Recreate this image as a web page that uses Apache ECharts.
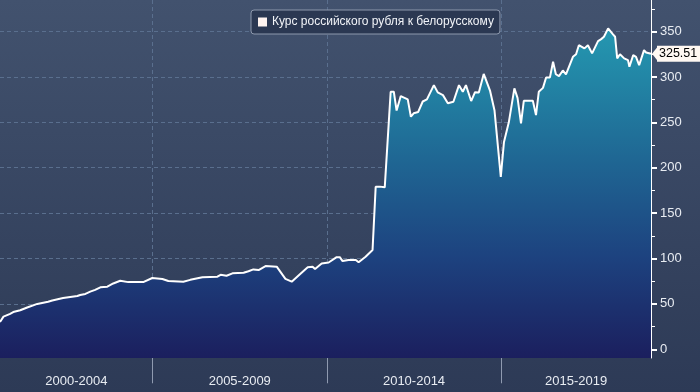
<!DOCTYPE html>
<html><head><meta charset="utf-8">
<script src="https://cdn.jsdelivr.net/npm/echarts@6/dist/echarts.min.js"></script>
<style>
html,body{margin:0;padding:0;}
#c{width:700px;height:392px;background:linear-gradient(#42526e,#2d3a56);}
</style>
</head><body><div id="c"></div>
<script>
const seriesName = 'Курс российского рубля к белорусскому';
// decimal years
const dates = [
2000.62,2000.72,2000.91,2001.00,2001.20,2001.40,2001.69,2002.00,2002.12,2002.43,
2002.84,2002.92,2003.07,2003.21,2003.35,2003.50,2003.70,2003.87,2004.07,2004.30,
2004.73,2004.99,2005.28,2005.45,2005.88,2006.08,2006.43,2006.86,2006.95,2007.12,
2007.29,2007.61,2007.75,2007.89,2008.04,2008.24,2008.56,2008.81,2008.99,2009.25,
2009.45,2009.59,2009.66,2009.85,2010.05,2010.28,2010.37,2010.45,2010.62,2010.83,
2010.91,2011.11,2011.31,2011.40,2011.52,2011.57,2011.66,2011.83,2011.92,2012.00,
2012.12,2012.32,2012.41,2012.49,2012.62,2012.75,2012.87,2013.07,2013.18,2013.33,
2013.47,2013.63,2013.79,2013.90,2013.99,2014.14,2014.25,2014.36,2014.50,2014.68,
2014.81,2014.99,2015.08,2015.22,2015.38,2015.47,2015.57,2015.65,2015.91,2016.00,
2016.08,2016.20,2016.29,2016.40,2016.49,2016.57,2016.66,2016.77,2016.86,2017.06,
2017.15,2017.23,2017.39,2017.49,2017.61,2017.78,2017.87,2017.95,2018.07,2018.21,
2018.27,2018.33,2018.41,2018.53,2018.64,2018.68,2018.79,2018.87,2018.96,2019.10,
2019.16,2019.30
];
const values = [
30,36,39,41,43,46,50,52.4,53.8,56.5,
58.7,59.8,61,63.5,65.5,68.3,69,72.5,75.5,74,
74,78.5,77.5,75.3,74.5,76.5,79.3,80,82,81,
83.7,84.4,86,88,87.3,91.7,91,77.5,74.5,83.5,
90.3,91,88.4,94.5,95.6,101.5,101.5,97.2,98.3,98.3,
95.8,102,109.4,179,179.2,180,178.4,283.7,283.7,263,
279,275.3,256.2,260,261.5,273,275.3,291,283,280,
271,272.7,291,283.7,291,273.5,283.2,283,303.4,285,
263,190,228,250,287.5,277,249,273.8,273.8,258,
283.7,288,299.5,299.5,316.7,303,301,307.2,302.9,322.2,
325,335,331.5,335,326,339.5,341.7,344.3,353.5,347,
344.3,320.5,325,320.5,318.6,311.2,324.1,322.2,313.1,329.6,
327,325.51
];
const yTicks = [0,50,100,150,200,250,300,350];
const yMinorTicks = [25,75,125,175,225,275,325,375];
const yearTicks = [2001,2002,2003,2004,2005,2006,2007,2008,2009,2010,2011,2012,2013,2014,2015,2016,2017,2018,2019];
const periodStarts = [2000,2005,2010,2015];
const periodLabels = ['2000-2004','2005-2009','2010-2014','2015-2019'];
const periodBreaks = [2005,2010,2015];

const xMin = dates[0], xMax = dates[dates.length-1];
const labelPos = periodStarts.map(s => (Math.max(s, xMin) + Math.min(s + 5, xMax)) / 2);
const data = dates.map((d, i) => [d, values[i]]);
const last = data[data.length-1];

const chart = echarts.init(document.getElementById('c'), null, {renderer:'canvas'});
const font = 'Liberation Sans';
chart.setOption({
  animation: false,
  backgroundColor: 'transparent',
  grid: {left: 0, right: 49, top: 0, bottom: 34, outerBoundsMode: 'none', containLabel: false},
  legend: {
    left: 251, top: 10,
    padding: [6, 6, 6, 7],
    itemWidth: 9, itemHeight: 9,
    icon: 'rect',
    backgroundColor: '#2b3852',
    borderColor: '#8d98ac', borderWidth: 1, borderRadius: 3,
    textStyle: {color: '#f2f4f8', fontSize: 12, fontFamily: font},
    data: [{name: seriesName, itemStyle: {color: '#fff4f0'}}]
  },
  xAxis: [{
    type: 'value', min: xMin, max: xMax, position: 'bottom', offset: 0,
    axisLine: {show: true, lineStyle: {color: '#ffffff', width: 1}},
    axisTick: {show: true, customValues: yearTicks, length: 4, lineStyle: {color: '#ffffff'}},
    axisLabel: {
      show: true, customValues: labelPos, margin: 17,
      color: '#e8ecf2', fontSize: 13, fontFamily: font,
      formatter: v => {
        let best = 0;
        labelPos.forEach((p, i) => { if (Math.abs(p - v) < Math.abs(labelPos[best] - v)) best = i; });
        return periodLabels[best];
      }
    },
    splitLine: {show: false}
  }, {
    type: 'value', min: xMin, max: xMax, position: 'bottom', offset: 0,
    axisLine: {show: false},
    axisTick: {show: true, customValues: periodBreaks, length: 34, lineStyle: {color: '#8f9ab0', width: 1}},
    axisLabel: {show: false},
    splitLine: {show: true, lineStyle: {color: '#5a6f8e', type: [4, 3], width: 1}}
  }],
  yAxis: [{
    type: 'value', min: -9.6, max: 384.8, position: 'right', offset: 0,
    axisLine: {show: true, lineStyle: {color: '#ffffff', width: 1}},
    axisTick: {show: true, customValues: yTicks, length: 6, lineStyle: {color: '#ffffff', width: 2}},
    axisLabel: {show: true, customValues: yTicks, margin: 9, color: '#e8ecf2', fontSize: 13, fontFamily: font},
    splitLine: {show: true, lineStyle: {color: '#5a6f8e', type: [4, 3], width: 1}}
  }, {
    type: 'value', min: -9.6, max: 384.8, position: 'right', offset: 0,
    axisLine: {show: false},
    axisTick: {show: true, customValues: yMinorTicks, length: 4, lineStyle: {color: '#ffffff', width: 1}},
    axisLabel: {show: false},
    splitLine: {show: false}
  }],
  series: [{
    name: seriesName,
    type: 'line',
    data: data,
    xAxisIndex: 0, yAxisIndex: 0,
    showSymbol: false,
    symbol: 'none',
    itemStyle: {color: '#ffffff'},
    lineStyle: {color: '#ffffff', width: 2},
    areaStyle: {
      origin: 'start',
      opacity: 1,
      color: new echarts.graphic.LinearGradient(0, 0, 0, 358, [
        {offset: 0, color: '#28a0b8'},
        {offset: 0.15, color: '#238fab'},
        {offset: 0.45, color: '#1f6693'},
        {offset: 0.72, color: '#1d427f'},
        {offset: 1, color: '#1b1f5e'}
      ], true)
    },
    endLabel: {
      show: true, distance: 6,
      formatter: () => String(last[1]),
      color: '#000', backgroundColor: '#fff8f2',
      padding: [2, 3, 1, 2], fontSize: 12.5, fontFamily: font
    },
    markPoint: {
      silent: true,
      symbol: 'triangle', symbolSize: [15, 6], symbolRotate: 90, symbolOffset: [4, 0],
      itemStyle: {color: '#fff8f2'},
      label: {show: false},
      data: [{coord: last}]
    }
  }]
});
</script>
</body></html>
